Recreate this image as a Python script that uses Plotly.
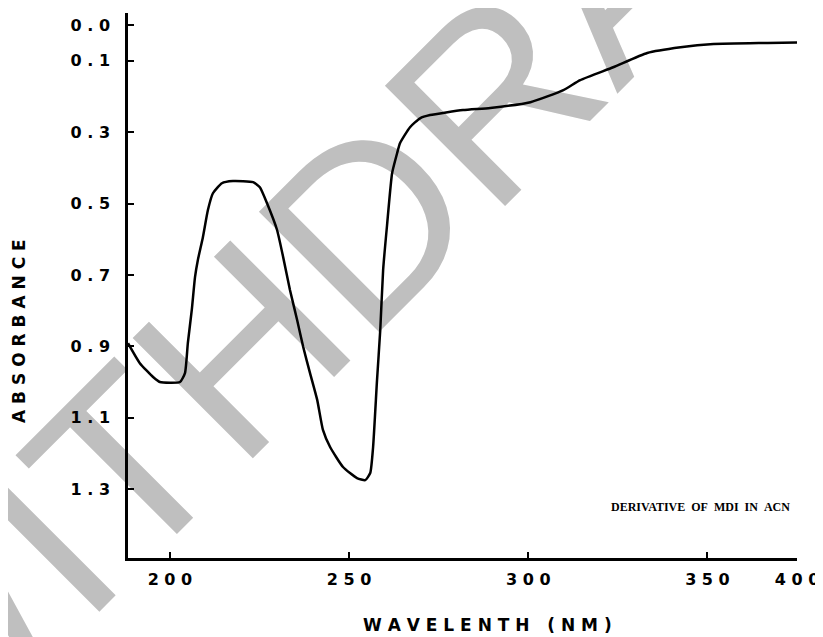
import plotly.graph_objects as go

# ---- data ----
wavelength = [188.3, 191.6, 195.3, 197.2, 202.8, 204.2, 205.0, 206.1, 207.0, 207.8,
              209.2, 210.6, 212.0, 214.5, 217.6, 223.2, 225.1, 227.1, 229.9, 231.6,
              233.5, 235.5, 237.2, 239.1, 241.1, 242.7, 244.7, 248.3, 252.2, 254.5,
              255.9, 256.7, 257.8, 258.7, 259.5, 260.6, 262.0, 263.4, 264.2, 267.0,
              269.8, 272.6, 281.8, 289.4, 300.6, 309.8, 314.5, 323.7, 333.2, 342.5,
              351.7, 366.8, 379.3]
absorbance = [0.891, 0.947, 0.986, 1.000, 1.000, 0.975, 0.891, 0.798, 0.706, 0.658,
              0.594, 0.518, 0.471, 0.443, 0.437, 0.440, 0.454, 0.499, 0.574, 0.650,
              0.742, 0.826, 0.902, 0.975, 1.050, 1.134, 1.182, 1.238, 1.269, 1.275,
              1.255, 1.182, 0.994, 0.854, 0.686, 0.560, 0.415, 0.359, 0.331, 0.286,
              0.261, 0.252, 0.238, 0.232, 0.216, 0.182, 0.154, 0.118, 0.078, 0.062,
              0.053, 0.050, 0.048]

y_tick_values = [0.0, 0.1, 0.3, 0.5, 0.7, 0.9, 1.1, 1.3]
y_tick_labels = ["0 . 0", "0 . 1", "0 . 3", "0 . 5", "0 . 7", "0 . 9", "1 . 1", "1 . 3"]
x_tick_values = [200, 250, 300, 350, 375]
x_tick_labels = ["2 0 0", "2 5 0", "3 0 0", "3 5 0", "4 0 0"]

x_title = "W A V E L E N T H   ( N M )"
y_title = "A B S O R B A N C E"
note_text = "DERIVATIVE\u00a0\u00a0OF\u00a0\u00a0MDI\u00a0\u00a0IN\u00a0\u00a0ACN"
watermark = "WITHDRAWN"

fig = go.Figure()
fig.add_trace(go.Scatter(
    x=wavelength, y=absorbance, mode="lines",
    line=dict(color="black", width=2.5, shape="spline", smoothing=0.5),
    cliponaxis=False, showlegend=False, hoverinfo="skip"))

tick_font = dict(family="DejaVu Sans", size=16, color="black", weight="bold")

wm_x, wm_y = 0.3933, 0.7198

fig.update_layout(
    width=815, height=629, autosize=False,
    margin=dict(l=120, r=26, t=5, b=79),
    paper_bgcolor="white", plot_bgcolor="rgba(0,0,0,0)",
    xaxis=dict(range=[188.3, 375.0], showgrid=False, zeroline=False,
               showline=True, linecolor="black", linewidth=2.5,
               ticks="inside", ticklen=6, tickwidth=2, tickcolor="black",
               tickvals=x_tick_values, ticktext=x_tick_labels,
               tickfont=tick_font, ticklabelstandoff=5),
    yaxis=dict(range=[1.493, -0.034], showgrid=False, zeroline=False,
               showline=True, linecolor="black", linewidth=2.5,
               ticks="inside", ticklen=6, tickwidth=2, tickcolor="black",
               tickvals=y_tick_values, ticktext=y_tick_labels,
               tickfont=tick_font, ticklabelstandoff=12),
    shapes=[dict(type="rect", xref="paper", yref="paper",
                 x0=wm_x - 0.001, x1=wm_x + 0.001, y0=wm_y - 0.001, y1=wm_y + 0.001,
                 line=dict(width=0), fillcolor="rgba(0,0,0,0)", layer="below",
                 label=dict(text=watermark, textangle=-45, textposition="middle center",
                            font=dict(family="Liberation Sans", size=247, color="#bfbfbf")))],
    annotations=[
        dict(text=y_title, xref="paper", yref="paper", x=-0.163, y=0.4165,
             xanchor="center", yanchor="middle", textangle=-90, showarrow=False,
             font=dict(family="DejaVu Sans", size=17, color="black", weight="bold")),
        dict(text=x_title, xref="paper", yref="paper", x=0.538, y=-0.1229,
             xanchor="center", yanchor="middle", showarrow=False,
             font=dict(family="DejaVu Sans", size=17, color="black", weight="bold")),
        dict(text=note_text, xref="paper", yref="paper", x=0.8565, y=0.0936,
             xanchor="center", yanchor="middle", showarrow=False,
             font=dict(family="Liberation Serif", size=12, color="black", weight="bold")),
    ],
)

fig.write_html("out.html")
